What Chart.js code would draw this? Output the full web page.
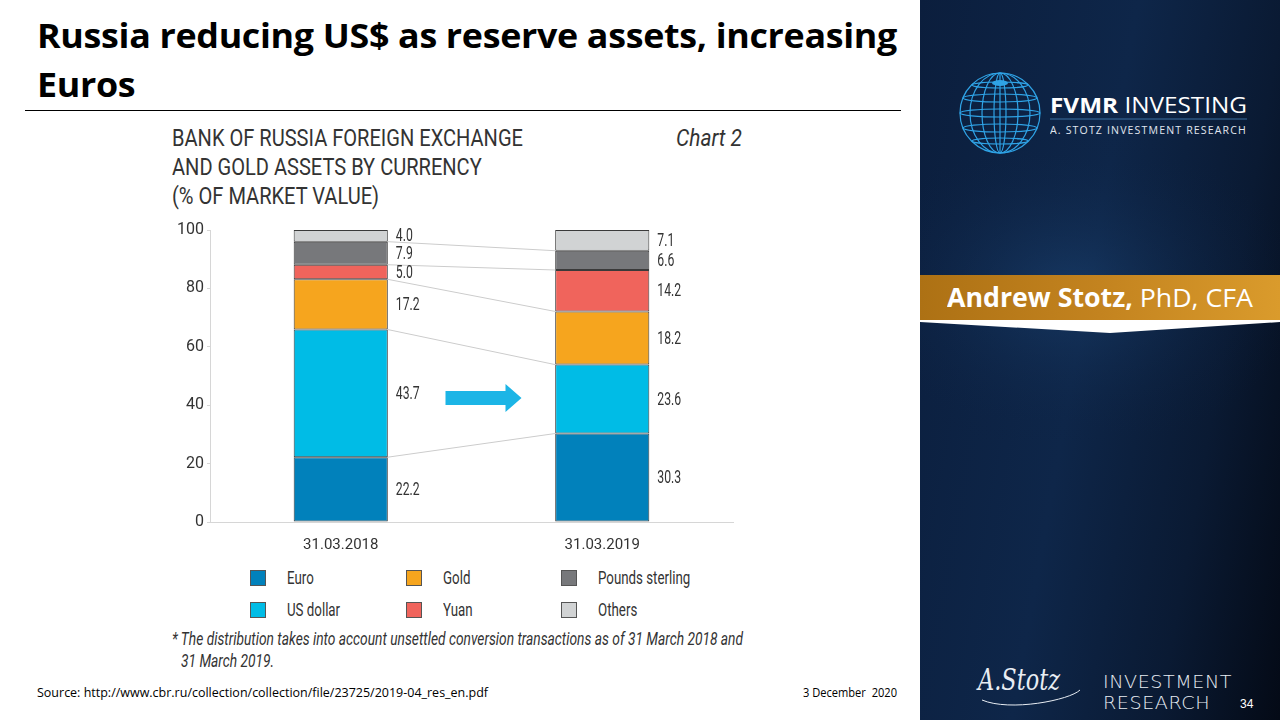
<!DOCTYPE html>
<html>
<head>
<meta charset="utf-8">
<script src="https://cdn.jsdelivr.net/npm/chart.js@4.4.1/dist/chart.umd.min.js"></script>
<style>
  html,body{margin:0;padding:0;}
  body{width:1280px;height:720px;position:relative;overflow:hidden;background:#fff;font-family:Roboto,sans-serif;}
  .t{position:absolute;white-space:nowrap;transform-origin:0 0;}
  .title{font-family:"Open Sans","Lato",sans-serif;font-weight:700;font-size:34px;color:#000;letter-spacing:-0.3px;}
  .rule{position:absolute;left:25px;top:110px;width:876px;height:1px;background:#000;}
  .ct{font-family:Roboto,sans-serif;font-size:24px;color:#333;}
  #wrap{position:absolute;left:160px;top:215px;width:590px;height:340px;}
  .sw{position:absolute;width:16px;height:16px;box-sizing:border-box;border:1px solid #555;}
  .lg{font-family:Roboto,sans-serif;font-size:19px;color:#333;}
  .foot{font-family:Roboto,sans-serif;font-style:italic;font-size:18px;color:#333;}
  .src{font-family:"Liberation Sans Narrow","Open Sans",sans-serif;font-size:12px;color:#000;}
  .panel{position:absolute;left:920px;top:0;width:360px;height:720px;overflow:hidden;background:linear-gradient(100deg,#0b1e3d 0%,#0e2649 45%,#0a1a33 75%,#040a16 100%);}
  .wt{color:#fff;}
</style>
</head>
<body>
<div class="t title" id="title1" data-w="860" style="left:37px;top:12px;">Russia reducing US$ as reserve assets, increasing</div>
<div class="t title" id="title2" data-same="title1" style="left:37px;top:61px;">Euros</div>
<div class="rule"></div>

<div class="t ct" id="ct1" data-w="351" style="left:172px;top:124px;">BANK OF RUSSIA FOREIGN EXCHANGE</div>
<div class="t ct" data-same="ct1" style="left:172px;top:153px;">AND GOLD ASSETS BY CURRENCY</div>
<div class="t ct" data-same="ct1" style="left:172px;top:182px;">(% OF MARKET VALUE)</div>
<div class="t ct" data-w="66" style="left:676px;top:124px;font-style:italic;">Chart 2</div>

<div id="wrap"><canvas id="c"></canvas></div>
<div id="legend"></div>

<div class="t foot" id="ft1" data-w="571" style="left:172px;top:628px;">* The distribution takes into account unsettled conversion transactions as of 31 March 2018 and</div>
<div class="t foot" data-same="ft1" style="left:181px;top:650px;">31 March 2019.</div>
<div class="t src" data-w="451" style="left:37px;top:684px;">Source: http://www.cbr.ru/collection/collection/file/23725/2019-04_res_en.pdf</div>
<div class="t src" data-w="94" style="left:803px;top:684px;">3 December&nbsp; 2020</div>

<div class="panel">
  <svg width="360" height="720" style="position:absolute;left:0;top:0">
    <defs>
      <radialGradient id="glow" cx="45%" cy="50%" r="55%">
        <stop offset="0%" stop-color="#1d4676" stop-opacity="0.55"/>
        <stop offset="100%" stop-color="#0b1e3d" stop-opacity="0"/>
      </radialGradient>
    </defs>
    <rect x="-40" y="140" width="420" height="300" fill="url(#glow)"/>
    <g stroke="#2fa3e6" stroke-width="1.2" fill="none">
      <circle cx="80" cy="113" r="40"/>
      <ellipse cx="80" cy="113" rx="30" ry="40"/>
      <ellipse cx="80" cy="113" rx="18" ry="40"/>
      <ellipse cx="80" cy="113" rx="6" ry="40"/>
      <line x1="80" y1="73" x2="80" y2="153"/>
      <ellipse cx="80" cy="85" rx="28" ry="3"/>
      <ellipse cx="80" cy="98" rx="37" ry="4"/>
      <ellipse cx="80" cy="113" rx="40" ry="4"/>
      <ellipse cx="80" cy="128" rx="37" ry="4"/>
      <ellipse cx="80" cy="141" rx="28" ry="3"/>
    </g>
    <ellipse cx="80" cy="83" rx="8" ry="3" fill="#2fa3e6"/>
    <line x1="130" y1="119" x2="327" y2="119" stroke="#3a6fa0" stroke-width="1"/>
    <defs>
      <linearGradient id="gold" x1="0" x2="1" y1="0" y2="0">
        <stop offset="0%" stop-color="#ad7114"/>
        <stop offset="50%" stop-color="#c3831f"/>
        <stop offset="100%" stop-color="#da9b2c"/>
      </linearGradient>
    </defs>
    <rect x="0" y="275" width="360" height="45" fill="url(#gold)"/>
    <polygon points="0,320 360,320 360,322 190,333 0,322" fill="#ffffff"/>
    <path d="M62,700 C90,712 150,700 160,690" stroke="#e8edf3" stroke-width="1" fill="none"/>
  </svg>
  <div class="t wt" data-w="197" style="left:130px;top:89px;font-family:'Open Sans',sans-serif;font-size:22px;"><b>FVMR</b> INVESTING</div>
  <div class="t" data-w="197" style="left:130px;top:122px;font-family:'Open Sans',sans-serif;font-size:11px;color:#e0e6ef;letter-spacing:1.2px;">A. STOTZ INVESTMENT RESEARCH</div>
  <div class="t wt" data-w="306" style="left:27px;top:279px;font-family:'Open Sans',sans-serif;font-size:26px;"><b>Andrew Stotz,</b> PhD, CFA</div>
  <div class="t" data-w="82" style="left:58px;top:662px;font-family:'DejaVu Serif',serif;font-style:italic;font-size:30px;color:#e8edf3;">A.Stotz</div>
  <div class="t" id="ir1" data-w="129" style="left:183px;top:672px;font-family:'DejaVu Sans',sans-serif;font-size:17px;color:#e8edf3;font-weight:300;letter-spacing:0.5px;">INVESTMENT</div>
  <div class="t" data-same="ir1" style="left:183px;top:693px;font-family:'DejaVu Sans',sans-serif;font-size:17px;color:#e8edf3;font-weight:300;letter-spacing:0.5px;">RESEARCH</div>
  <div class="t wt" style="left:320px;top:697px;font-family:'Liberation Sans',sans-serif;font-size:12px;">34</div>
</div>

<script>
// ---- Data ----
const categories = ["31.03.2018", "31.03.2019"];
const seriesNames = ["Euro", "US dollar", "Gold", "Yuan", "Pounds sterling", "Others"];
const euro = [22.2, 30.3];
const usDollar = [43.7, 23.6];
const gold = [17.2, 18.2];
const yuan = [5.0, 14.2];
const poundsSterling = [7.9, 6.6];
const others = [4.0, 7.1];
const yTicks = [0, 20, 40, 60, 80, 100];
const seriesColors = ["#0181bb", "#00bce6", "#f6a51e", "#f0645c", "#77787b", "#d1d3d4"];

const seriesValues = [euro, usDollar, gold, yuan, poundsSterling, others];
const FONT = 'Roboto, sans-serif';

// HTML legend from the series arrays (3 columns x 2 rows, column-major)
const legendEl = document.getElementById('legend');
seriesNames.forEach((n, i) => {
  const col = Math.floor(i / 2), row = i % 2;
  const x = 250 + col * 155.5, y = 570 + row * 32;
  const sw = document.createElement('div');
  sw.className = 'sw';
  sw.style.left = x + 'px'; sw.style.top = y + 'px'; sw.style.background = seriesColors[i];
  legendEl.appendChild(sw);
  const lb = document.createElement('div');
  lb.className = 't lg';
  lb.textContent = n;
  lb.style.left = (x + 37) + 'px'; lb.style.top = (y - 4) + 'px';
  lb.dataset.scale = '0.70';
  legendEl.appendChild(lb);
});

// fit text widths (condensed look) by horizontal scaling
const scales = {};
document.querySelectorAll('.t').forEach(el => {
  let s = 1;
  if (el.dataset.w) s = parseFloat(el.dataset.w) / el.getBoundingClientRect().width;
  else if (el.dataset.scale) s = parseFloat(el.dataset.scale);
  else if (el.dataset.same) s = scales[el.dataset.same];
  if (el.id) scales[el.id] = s;
  if (s && s !== 1) el.style.transform = 'scaleX(' + s + ')';
});

const datasets = seriesNames.map((n, i) => ({
  label: n,
  data: seriesValues[i],
  backgroundColor: seriesColors[i],
  borderColor: '#3a3a3a',
  borderWidth: 1,
  borderSkipped: false,
  barPercentage: 0.36,
  categoryPercentage: 1.0
}));

const overlay = {
  id: 'overlay',
  afterDatasetsDraw(chart) {
    const ctx = chart.ctx;
    const x = chart.scales.x, y = chart.scales.y;
    const metas = chart.data.datasets.map((d, i) => chart.getDatasetMeta(i));
    ctx.save();
    // connector lines between cumulative tops
    ctx.strokeStyle = '#cccccc';
    ctx.lineWidth = 1;
    let c0 = 0, c1 = 0;
    for (let i = 0; i < seriesValues.length - 1; i++) {
      c0 += seriesValues[i][0]; c1 += seriesValues[i][1];
      const b0 = metas[i].data[0], b1 = metas[i].data[1];
      ctx.beginPath();
      ctx.moveTo(b0.x + b0.width / 2, y.getPixelForValue(c0));
      ctx.lineTo(b1.x - b1.width / 2, y.getPixelForValue(c1));
      ctx.stroke();
    }
    // value labels
    ctx.fillStyle = '#333';
    ctx.font = '18px ' + FONT;
    ctx.textBaseline = 'middle';
    ctx.textAlign = 'left';
    for (let j = 0; j < categories.length; j++) {
      let cum = 0;
      for (let i = 0; i < seriesValues.length; i++) {
        const v = seriesValues[i][j];
        const b = metas[i].data[j];
        const yy = y.getPixelForValue(cum + v / 2);
        cum += v;
        ctx.save();
        ctx.translate(b.x + b.width / 2 + 8, yy + 1);
        ctx.scale(0.68, 1);
        ctx.fillText(v.toFixed(1), 0, 0);
        ctx.restore();
      }
    }
    // arrow
    const mid = (x.getPixelForValue(0) + x.getPixelForValue(1)) / 2 + 12;
    const ay = y.getPixelForValue(42.5);
    ctx.fillStyle = '#1cb5e6';
    ctx.beginPath();
    ctx.moveTo(mid - 38, ay - 7);
    ctx.lineTo(mid + 22, ay - 7);
    ctx.lineTo(mid + 22, ay - 14);
    ctx.lineTo(mid + 38, ay);
    ctx.lineTo(mid + 22, ay + 14);
    ctx.lineTo(mid + 22, ay + 7);
    ctx.lineTo(mid - 38, ay + 7);
    ctx.closePath();
    ctx.fill();
    ctx.restore();
  }
};

new Chart(document.getElementById('c'), {
  type: 'bar',
  data: { labels: categories, datasets },
  options: {
    responsive: true,
    maintainAspectRatio: false,
    animation: false,
    layout: { padding: { top: 15, right: 17, left: 0, bottom: 0 } },
    plugins: { legend: { display: false }, tooltip: { enabled: false } },
    scales: {
      x: {
        stacked: true,
        grid: { display: false },
        border: { display: true, color: '#d6d6d6', width: 1 },
        ticks: { color: '#333', font: { family: FONT, size: 15 }, padding: 6 },
        afterFit(s) { s.height = 33; }
      },
      y: {
        stacked: true,
        min: 0, max: 100,
        afterBuildTicks(s) { s.ticks = yTicks.map(v => ({ value: v })); },
        grid: { display: true, drawOnChartArea: false, drawTicks: true, tickLength: 3, color: '#d6d6d6' },
        border: { display: true, color: '#d6d6d6', width: 1 },
        ticks: { color: '#333', font: { family: FONT, size: 16 }, padding: 3 },
        afterFit(s) { s.width = 50; }
      }
    }
  },
  plugins: [overlay]
});
</script>
</body>
</html>
